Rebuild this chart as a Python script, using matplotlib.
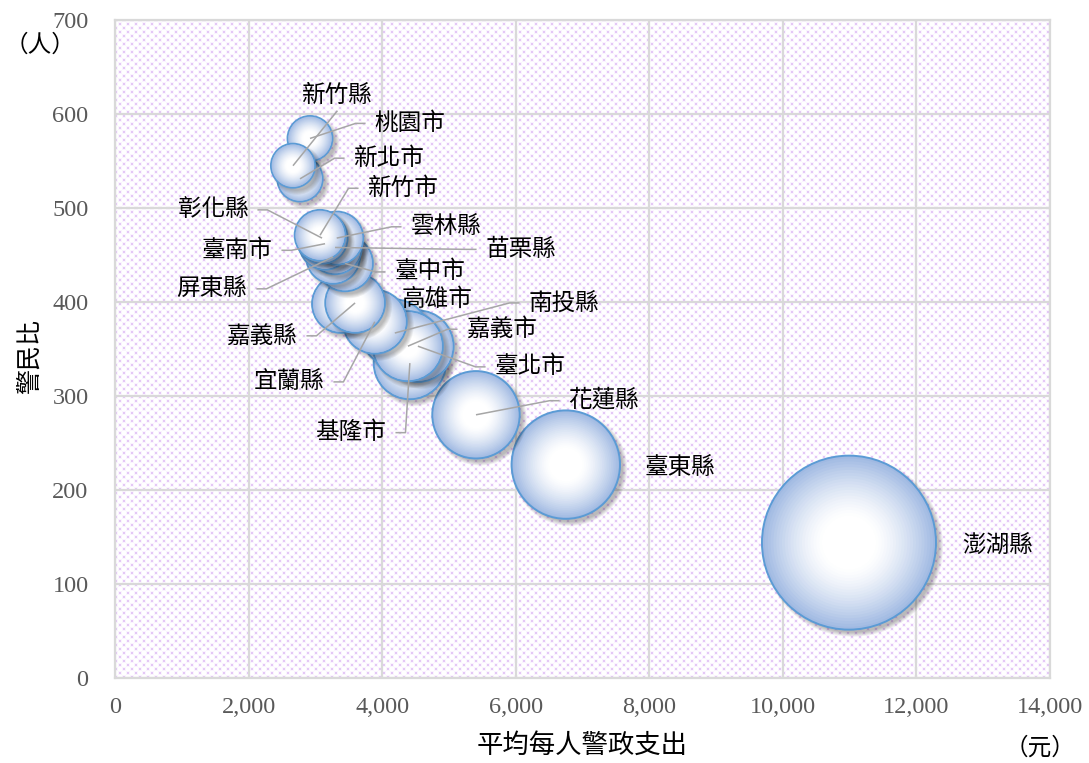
import numpy as np
import matplotlib.pyplot as plt
import matplotlib.transforms as mtransforms
from matplotlib.colors import to_rgb

# data
names = ['新竹縣', '桃園市', '新北市', '新竹市', '彰化縣', '雲林縣', '臺南市',
         '苗栗縣', '屏東縣', '臺中市', '高雄市', '嘉義縣', '宜蘭縣', '南投縣',
         '嘉義市', '臺北市', '基隆市', '花蓮縣', '臺東縣', '澎湖縣']
spend = [2665, 2920, 2770, 3070, 3100, 3320, 3145, 3295, 3265, 3445, 3385,
         3595, 3890, 4190, 4385, 4535, 4415, 5405, 6750, 10990]
ratio = [545, 574, 531, 471, 468, 468, 462, 458, 448, 441, 398, 399, 379,
         367, 353, 353, 335, 280, 227, 144]
bubble = [4.9, 5.1, 5.2, 6.5, 6.6, 7.1, 6.8, 7.2, 7.3, 7.8, 8.5, 9.0, 10.3,
          11.4, 12.4, 12.9, 13.2, 19.3, 29.7, 76.5]

x_ticks = [0, 2000, 4000, 6000, 8000, 10000, 12000, 14000]
y_ticks = [0, 100, 200, 300, 400, 500, 600, 700]

# label placement (data coords) and which side the leader line leaves from
label_pos = {
    '新竹縣': (3330, 620, 'b'), '桃園市': (4417, 590, 'l'),
    '新北市': (4103, 553, 'l'), '新竹市': (4312, 521, 'l'),
    '彰化縣': (1467, 498, 'r'), '雲林縣': (4956, 480, 'l'),
    '臺南市': (1827, 455, 'r'), '苗栗縣': (6079, 456, 'l'),
    '屏東縣': (1452, 414, 'r'), '臺中市': (4716, 432, 'l'),
    '高雄市': (4821, 403, None), '南投縣': (6723, 399, 'l'),
    '嘉義縣': (2201, 364, 'r'), '嘉義市': (5794, 371, 'l'),
    '臺北市': (6214, 331, 'l'), '宜蘭縣': (2605, 315, 'r'),
    '基隆市': (3534, 261, 'r'), '花蓮縣': (7322, 295, 'l'),
    '臺東縣': (8460, 224, None), '澎湖縣': (13221, 141, None),
}

# back-to-front stacking of the bubbles as seen in the chart
draw_order = ['澎湖縣', '臺東縣', '花蓮縣', '基隆市', '臺北市', '南投縣', '嘉義市',
              '宜蘭縣', '高雄市', '嘉義縣', '臺中市', '屏東縣', '苗栗縣', '臺南市',
              '雲林縣', '彰化縣', '新竹市', '新北市', '桃園市', '新竹縣']

plt.rcParams['font.family'] = ['Liberation Serif', 'Noto Sans CJK TC']

DPI = 100
fig = plt.figure(figsize=(10.89, 7.63), dpi=DPI)
ax = fig.add_axes([115 / 1089, 1 - 678 / 763, 935 / 1089, 658 / 763])

# dotted plot area background (staggered dot pattern with a soft halo)
h, w = 658, 935
yy, xx = np.mgrid[0:h, 0:w]
def dot_mask(size, off):
    a = ((xx + off) % 8 < size) & ((yy + off) % 8 < size)
    b = ((xx + off + 4) % 8 < size) & ((yy + off + 4) % 8 < size)
    return a | b
bg = np.ones((h, w, 3))
bg[dot_mask(4, 1)] = to_rgb('#FAF4FE')
bg[dot_mask(2, 0)] = to_rgb('#E4C8F6')
ax.imshow(bg, extent=(0, 14000, 0, 700), aspect='auto', interpolation='nearest',
          zorder=0.1)
ax.set_xlim(0, 14000)
ax.set_ylim(0, 700)

ax.set_axisbelow(True)
ax.grid(True, color='#D9D9D9', lw=1.6)
for sp in ax.spines.values():
    sp.set_color('#D9D9D9')
    sp.set_linewidth(1.6)

ax.set_xticks(x_ticks)
ax.set_xticklabels([f'{v:,}' for v in x_ticks])
ax.set_yticks(y_ticks)
ax.tick_params(length=0, labelsize=17.5, labelcolor='#595959')
ax.tick_params(axis='y', pad=19)
ax.tick_params(axis='x', pad=14)

# bubbles: radial gradient, outline and soft shadow
r_max = 87.0  # px radius of the largest bubble
edge_fill = np.array(to_rgb('#A0B9E2'))
white = np.ones(3)
n_layers = 30
shadow_tr = mtransforms.offset_copy(ax.transData, fig=fig, x=4, y=-4, units='dots')

for rank, name in enumerate(draw_order):
    i = names.index(name)
    r = r_max * np.sqrt(bubble[i] / max(bubble))
    z = 2 + rank * 0.01
    # shadow
    sr = np.linspace(r + 3, r - 1, 5)
    ax.scatter([spend[i]] * len(sr), [ratio[i]] * len(sr),
               s=(2 * sr * 72 / DPI) ** 2, color='black', alpha=0.06,
               linewidths=0, transform=shadow_tr, zorder=z)
    # gradient discs
    frac = np.linspace(1, 0.05, n_layers)
    t = np.clip((frac - 0.3) / 0.7, 0, 1) ** 1.4
    cols = white[None, :] * (1 - t[:, None]) + edge_fill[None, :] * t[:, None]
    lws = np.zeros(n_layers)
    lws[0] = 1.4
    ax.scatter([spend[i]] * n_layers, [ratio[i]] * n_layers,
               s=(2 * r * frac * 72 / DPI) ** 2, c=cols,
               edgecolors=['#5B9BD5'] + ['none'] * (n_layers - 1),
               linewidths=lws, zorder=z + 0.005)

# labels
cjk = ['Noto Sans CJK TC', 'DejaVu Sans']
texts = {}
for name in names:
    lx, ly, side = label_pos[name]
    texts[name] = ax.text(lx, ly, name, ha='center', va='center', fontsize=17,
                          family=cjk, color='black', zorder=10)

ax.set_xlabel('平均每人警政支出', fontsize=19, family=cjk, color='black')
ax.xaxis.set_label_coords(0.5, (678 - 745) / 658)
ax.xaxis.label.set_va('center')
ax.set_ylabel('警民比', fontsize=18, family=cjk, color='black')
ax.yaxis.set_label_coords((30 - 115) / 935, (678 - 357) / 658)
ax.yaxis.label.set_va('center')

fig.text(40 / 1089, 1 - 45 / 763, '（人）', fontsize=17, family=cjk,
         ha='center', va='center')
fig.text(1040 / 1089, 1 - 748 / 763, '（元）', fontsize=17, family=cjk,
         ha='center', va='center')

# leader lines from label edge to bubble centre
fig.canvas.draw()
renderer = fig.canvas.get_renderer()
inv = ax.transData.inverted()
gap, stub = 9, 10
for i, name in enumerate(names):
    side = label_pos[name][2]
    if side is None:
        continue
    bb = texts[name].get_window_extent(renderer)
    yc = (bb.y0 + bb.y1) / 2
    cx, cy = ax.transData.transform((spend[i], ratio[i]))
    if side == 'l':
        pts = [(bb.x0 - gap, yc), (bb.x0 - gap - stub, yc), (cx, cy)]
    elif side == 'r':
        pts = [(bb.x1 + gap, yc), (bb.x1 + gap + stub, yc), (cx, cy)]
    else:
        xc = (bb.x0 + bb.x1) / 2
        pts = [(xc, bb.y0 - 4), (cx, cy)]
    dpts = inv.transform(pts)
    ax.plot(dpts[:, 0], dpts[:, 1], color='#A6A6A6', lw=1.1, zorder=9,
            solid_capstyle='butt')

fig.savefig('out.png', dpi=DPI)
